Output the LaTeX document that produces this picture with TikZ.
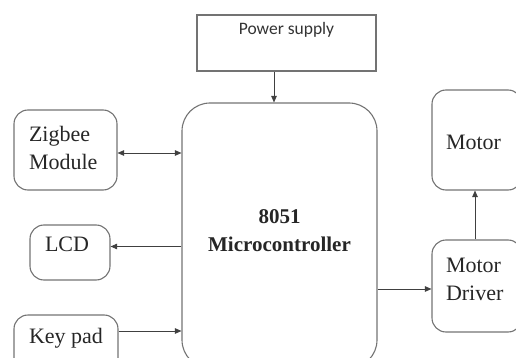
\documentclass[tikz,border=0pt]{standalone}
\usepackage{fontspec}
\setmainfont{Liberation Serif}
\newfontfamily\psfont{Carlito}
\usetikzlibrary{arrows.meta}

\begin{document}
\begin{tikzpicture}[x=1pt,y=-1pt,font=\fontsize{22}{28}\selectfont,
  box/.style={draw=black!55,line width=1.1pt,rounded corners=14pt,inner sep=0pt,text=black!85},
  wire/.style={draw=black!75,line width=0.9pt},
  >={Triangle[length=6.5pt,width=5.5pt]}]
\useasboundingbox (0,0) rectangle (516,358);
% boxes
\node[box,sharp corners,minimum width=179pt,minimum height=56pt,
  label={[name=powertext,anchor=north,yshift=-4pt,text=black!80,font=\psfont\fontsize{17.5}{20}\selectfont]north:Power supply}] (power) at (286.5,43) {};
\node[box,rounded corners=28pt,minimum width=195pt,minimum height=265pt,
  label={[name=mcutext,align=center,yshift=5pt,text=black!85,font=\bfseries\fontsize{21}{28}\selectfont]center:8051\\Microcontroller}] (mcu) at (279.5,235.5) {};
\node[box,minimum width=103pt,minimum height=80pt,
  label={[name=zigbeetext,text width=73pt,align=left,yshift=2pt,text=black!85]center:Zigbee\\Module}] (zigbee) at (65.5,150) {};
\node[box,minimum width=80pt,minimum height=55pt,
  label={[name=lcdtext,anchor=north,yshift=-9pt,xshift=-3pt,text=black!85]north:LCD}] (lcd) at (70,252.5) {};
\node[box,minimum width=104pt,minimum height=60pt,
  label={[name=keytext,anchor=north,yshift=-10pt,text=black!85]north:Key pad}] (keypad) at (66,345) {};
\node[box,minimum width=90pt,minimum height=100pt,
  label={[name=motortext,text width=62pt,align=left,yshift=-2pt,text=black!85]center:Motor}] (motor) at (477,140) {};
\node[box,minimum width=90pt,minimum height=92pt,
  label={[name=drivertext,text width=62pt,align=left,yshift=7pt,text=black!85]center:Motor\\Driver}] (driver) at (477,286) {};
% connectors
\draw[wire,->] ([xshift=-12.5pt]power.south) -- ([xshift=-12.5pt]power.south |- mcu.north);
\draw[wire,<->] ([yshift=-3pt]zigbee.east) -- ([yshift=-3pt]zigbee.east -| mcu.west);
\draw[wire,->] ([yshift=6pt]lcd.east -| mcu.west) -- ([yshift=6pt]lcd.east);
\draw[wire,->] ([yshift=14pt]keypad.east) -- ([yshift=14pt]keypad.east -| mcu.west);
\draw[wire,->] ([yshift=-3pt]driver.west -| mcu.east) -- ([yshift=-3pt]driver.west);
\draw[wire,->] ([xshift=-2pt]driver.north) -- ([xshift=-2pt]motor.south);
\end{tikzpicture}
\end{document}
